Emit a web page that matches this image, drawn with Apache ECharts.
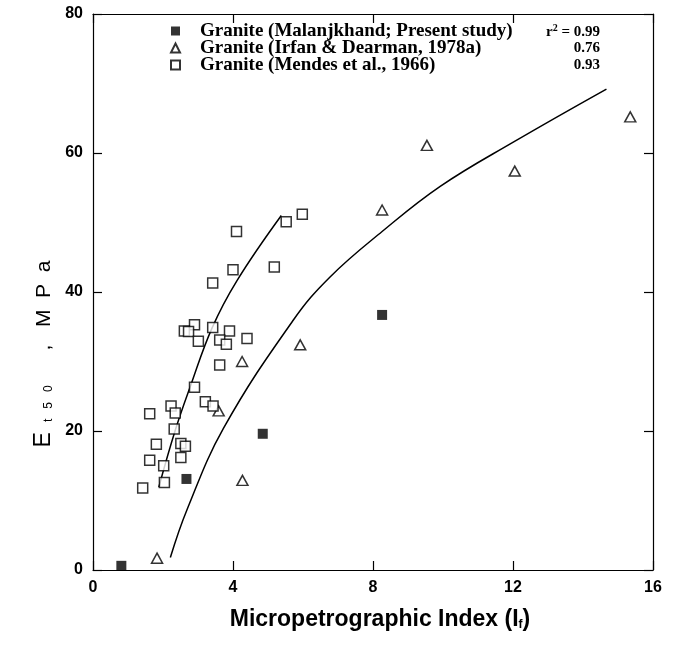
<!DOCTYPE html>
<html>
<head>
<meta charset="utf-8">
<script src="https://cdn.jsdelivr.net/npm/echarts@6/dist/echarts.min.js"></script>
<style>
  html, body { margin: 0; padding: 0; background: #fff; }
  #chart { width: 677px; height: 646px; }
</style>
</head>
<body>
<div id="chart"></div>
<script>
// Micropetrographic index vs tangent modulus for three granite datasets
const seriesNames = [
  'Granite (Malanjkhand; Present study)',
  'Granite (Irfan & Dearman, 1978a)',
  'Granite (Mendes et al., 1966)'
];
const r2Values = ['0.99', '0.76', '0.93'];

const xTicks = [0, 4, 8, 12, 16];
const yTicks = [0, 20, 40, 60, 80];

// Malanjkhand granite (filled squares)
const malanjX = [0.81, 2.67, 4.85, 8.26];
const malanjY = [0.6, 13.1, 19.6, 36.7];

// Irfan & Dearman (open triangles)
const irfanX = [1.83, 3.59, 4.27, 4.26, 5.92, 8.26, 9.54, 12.05, 15.35];
const irfanY = [1.7, 22.9, 12.9, 30.0, 32.4, 51.8, 61.1, 57.4, 65.2];

// Mendes et al. (open squares)
const mendesX = [4.1, 5.18, 4.0, 3.42, 2.9, 2.61, 2.73, 3.42, 3.9, 3.01, 3.62, 3.81, 4.4, 3.62, 2.9,
                 3.21, 3.43, 2.23, 2.35, 1.62, 2.32, 1.81, 2.51, 2.64, 1.62, 2.51, 2.02, 2.04, 1.42, 5.52, 5.98];
const mendesY = [48.7, 43.6, 43.2, 41.3, 35.3, 34.4, 34.3, 34.9, 34.4, 32.9, 33.1, 32.5, 33.3, 29.5, 26.3,
                 24.2, 23.6, 23.6, 22.6, 22.5, 20.3, 18.1, 18.2, 17.8, 15.8, 16.2, 15.0, 12.6, 11.8, 50.1, 51.2];

// Fitted trend curves
const mendesFitX = [1.88, 2.35, 2.78, 3.4, 4.11, 5.38];
const mendesFitY = [11.9, 20.1, 26.4, 34.8, 41.6, 51.0];
const irfanFitX = [2.21, 2.68, 3.73, 5.73, 6.78, 8.26, 9.92, 12.02, 14.67];
const irfanFitY = [1.8, 8.6, 20.4, 36.0, 42.2, 48.7, 55.2, 61.6, 69.2];

const zip = (xs, ys) => xs.map((x, i) => [x, ys[i]]);

const chart = echarts.init(document.getElementById('chart'));

const axisLine = { show: true, onZero: false, lineStyle: { color: '#000', width: 1.2 } };
const axisTick = { show: true, inside: true, length: 9, lineStyle: { color: '#000', width: 1.2 } };
const tickFont = { color: '#000', fontFamily: 'Liberation Sans', fontWeight: 'bold', fontSize: 16 };

const xBase = { type: 'value', min: xTicks[0], max: xTicks[xTicks.length - 1], interval: 4,
  splitLine: { show: false }, axisLine, axisTick };
const yBase = { type: 'value', min: yTicks[0], max: yTicks[yTicks.length - 1], interval: 20,
  splitLine: { show: false }, axisLine, axisTick };

const openStyle = { color: '#fff', borderColor: '#000', borderWidth: 1.5 };

chart.setOption({
  animation: false,
  backgroundColor: '#fff',
  grid: { left: 93, right: 24, top: 14, bottom: 76 },
  xAxis: [
    Object.assign({}, xBase, {
      position: 'bottom',
      axisLabel: Object.assign({ margin: 10 }, tickFont),
      name: 'Micropetrographic Index (I{f|f})',
      nameLocation: 'middle',
      nameGap: 38,
      nameTextStyle: {
        color: '#000', fontFamily: 'Liberation Sans', fontWeight: 'bold', fontSize: 23,
        padding: [0, 0, 0, 14],
        rich: { f: { fontFamily: 'Liberation Sans', fontWeight: 'bold', fontSize: 12, verticalAlign: 'bottom', padding: [9, 0, 0, 0] } }
      }
    }),
    Object.assign({}, xBase, { position: 'top', axisLabel: { show: false } })
  ],
  yAxis: [
    Object.assign({}, yBase, { position: 'left', axisLabel: Object.assign({ margin: 10 }, tickFont) }),
    Object.assign({}, yBase, { position: 'right', axisLabel: { show: false } })
  ],
  legend: {
    data: seriesNames.map(n => ({ name: n })),
    orient: 'vertical',
    left: 170,
    top: 21.5,
    padding: 0,
    itemGap: -2,
    itemWidth: 9,
    itemHeight: 9,
    selectedMode: false,
    textStyle: { color: '#000', fontFamily: 'Liberation Serif', fontWeight: 'bold', fontSize: 19,
      padding: [0, 0, 0, 15] }
  },
  graphic: [
    {
      type: 'text',
      x: 44, y: 354,
      rotation: Math.PI / 2,
      style: {
        text: '{e|E}{s|   t   5   0}{n|      ,   M  P  a}',
        align: 'center',
        verticalAlign: 'middle',
        fill: '#000',
        rich: {
          e: { fontFamily: 'Liberation Sans', fontSize: 23, fill: '#000' },
          s: { fontFamily: 'Liberation Sans', fontSize: 12, fill: '#000', padding: [10, 0, 0, 0] },
          n: { fontFamily: 'Liberation Sans', fontSize: 21, fill: '#000' }
        }
      }
    },
    ...r2Values.map((v, i) => ({
      type: 'text',
      x: 600, y: 32 + i * 16.5,
      style: {
        text: i === 0 ? '{t|r}{sup|2}{t| = ' + v + '}' : '{t|' + v + '}',
        align: 'right',
        verticalAlign: 'middle',
        fill: '#000',
        rich: {
          t: { fontFamily: 'Liberation Serif', fontWeight: 'bold', fontSize: 15, fill: '#000' },
          sup: { fontFamily: 'Liberation Serif', fontWeight: 'bold', fontSize: 10, fill: '#000', padding: [0, 0, 8, 0] }
        }
      }
    }))
  ],
  series: [
    {
      name: 'mendesFit', type: 'line', data: zip(mendesFitX, mendesFitY),
      showSymbol: false, smooth: 0.4, z: 2,
      lineStyle: { color: '#000', width: 1.5 }
    },
    {
      name: 'irfanFit', type: 'line', data: zip(irfanFitX, irfanFitY),
      showSymbol: false, smooth: 0.4, z: 2,
      lineStyle: { color: '#000', width: 1.5 }
    },
    {
      name: seriesNames[0], type: 'scatter', data: zip(malanjX, malanjY),
      symbol: 'rect', symbolSize: 10, z: 5,
      itemStyle: { color: '#000' }
    },
    {
      name: seriesNames[1], type: 'scatter', data: zip(irfanX, irfanY),
      symbol: 'triangle', symbolSize: [11, 10], z: 5,
      itemStyle: openStyle
    },
    {
      name: seriesNames[2], type: 'scatter', data: zip(mendesX, mendesY),
      symbol: 'rect', symbolSize: 10, z: 5,
      itemStyle: openStyle
    }
  ]
});
</script>
</body>
</html>
